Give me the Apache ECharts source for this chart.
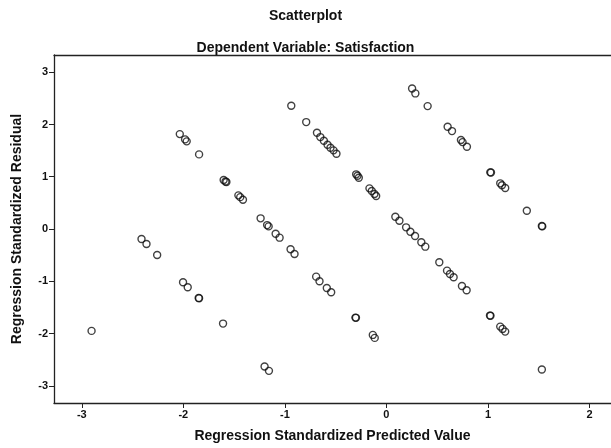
<!DOCTYPE html>
<html>
<head>
<meta charset="utf-8">
<script src="https://cdn.jsdelivr.net/npm/echarts@6/dist/echarts.min.js"></script>
<style>
html,body{margin:0;padding:0;background:#fff;}
#c{width:611px;height:448px;}
</style>
</head>
<body>
<div id="c"></div>
<script>
// Regression standardized predicted values (x) and residuals (y)
var predicted = [
  -2.035, -1.983, -1.967, -1.845, -1.603, -1.585, -1.576, -1.458, -1.440, -1.413,
  -1.239, -1.175, -1.160, -1.091, -1.052, -0.944, -0.905, -0.692, -0.659, -0.587,
  -0.544, -0.305, -0.300, -0.134, -0.115,
  -2.904, -2.412, -2.363, -2.258, -2.003, -1.957, -1.849, -1.845, -1.609, -1.200, -1.157,
  -0.937, -0.790, -0.684, -0.651, -0.616, -0.580, -0.551, -0.521, -0.492, -0.298,
  -0.285, -0.272, -0.167, -0.144, -0.118, -0.101, 0.088, 0.128, 0.194, 0.236,
  0.282, 0.344, 0.383, 0.521, 0.597, 0.626, 0.662, 0.744, 0.790, 1.020,
  1.025, 1.121, 1.144, 1.170, 1.531,
  0.253, 0.285, 0.406, 0.603, 0.646, 0.734, 0.750, 0.793, 1.023, 1.030,
  1.121, 1.138, 1.170, 1.383, 1.531, 1.535
];
var residual = [
  1.816, 1.715, 1.677, 1.428, 0.937, 0.910, 0.899, 0.644, 0.610, 0.560,
  0.204, 0.075, 0.050, -0.090, -0.166, -0.388, -0.478, -0.912, -1.000, -1.128,
  -1.210, -1.696, -1.700, -2.027, -2.084,
  -1.950, -0.191, -0.287, -0.497, -1.019, -1.115, -1.319, -1.325, -1.810, -2.632, -2.715,
  2.358, 2.046, 1.841, 1.759, 1.688, 1.612, 1.554, 1.505, 1.440, 1.046,
  1.020, 0.981, 0.778, 0.727, 0.669, 0.631, 0.235, 0.159, 0.032, -0.052,
  -0.134, -0.254, -0.338, -0.637, -0.797, -0.860, -0.924, -1.090, -1.172, -1.657,
  -1.660, -1.868, -1.912, -1.964, -2.690,
  2.690, 2.595, 2.352, 1.956, 1.874, 1.702, 1.663, 1.574, 1.084, 1.080,
  0.874, 0.836, 0.784, 0.350, 0.057, 0.050
];
var xTicks = [-3, -2, -1, 0, 1, 2];
var yTicks = [-3, -2, -1, 0, 1, 2, 3];

var points = predicted.map(function (x, i) { return [x, residual[i]]; });

var FONT = '"Liberation Sans", Arial, sans-serif';
var XMIN = -3.274, XMAX = 2.212;
var chart = echarts.init(document.getElementById('c'), null, {renderer: 'canvas'});
chart.setOption({
  animation: false,
  backgroundColor: '#fff',
  title: [
    {text: 'Scatterplot', left: 'center', top: 4,
     textStyle: {fontFamily: FONT, fontSize: 14, fontWeight: 'bold', color: '#111'}},
    {text: 'Dependent Variable: Satisfaction', left: 'center', top: 36,
     textStyle: {fontFamily: FONT, fontSize: 14, fontWeight: 'bold', color: '#111'}}
  ],
  grid: {left: 54, top: 55, right: 0, bottom: 45, show: false},
  xAxis: [{
    type: 'value', min: XMIN, max: XMAX, position: 'bottom',
    name: 'Regression Standardized Predicted Value', nameLocation: 'middle', nameGap: 26,
    nameTextStyle: {fontFamily: FONT, fontSize: 14, fontWeight: 'bold', color: '#111'},
    axisLine: {show: true, onZero: false, lineStyle: {color: '#222', width: 1.3}},
    axisTick: {show: true, length: 5, customValues: xTicks, lineStyle: {color: '#222'}},
    axisLabel: {customValues: xTicks, fontFamily: FONT, fontSize: 11, fontWeight: 'bold', color: '#111', margin: 6},
    splitLine: {show: false}
  }, {
    type: 'value', min: XMIN, max: XMAX, position: 'top',
    axisLine: {show: true, onZero: false, lineStyle: {color: '#222', width: 1.3}},
    axisTick: {show: false}, axisLabel: {show: false}, splitLine: {show: false}
  }],
  yAxis: {
    type: 'value', min: -3.33, max: 3.33,
    name: 'Regression Standardized Residual', nameLocation: 'middle', nameGap: 30,
    nameTextStyle: {fontFamily: FONT, fontSize: 14, fontWeight: 'bold', color: '#111'},
    axisLine: {show: true, onZero: false, lineStyle: {color: '#222', width: 1.3}},
    axisTick: {show: true, length: 5, customValues: yTicks, lineStyle: {color: '#222'}},
    axisLabel: {customValues: yTicks, fontFamily: FONT, fontSize: 11, fontWeight: 'bold', color: '#111', margin: 6},
    splitLine: {show: false}
  },
  series: [{
    type: 'scatter',
    xAxisIndex: 0,
    data: points,
    symbol: 'circle',
    symbolSize: 7,
    itemStyle: {color: 'rgba(0,0,0,0)', borderColor: '#111', borderWidth: 1.4}
  }]
});
</script>
</body>
</html>
